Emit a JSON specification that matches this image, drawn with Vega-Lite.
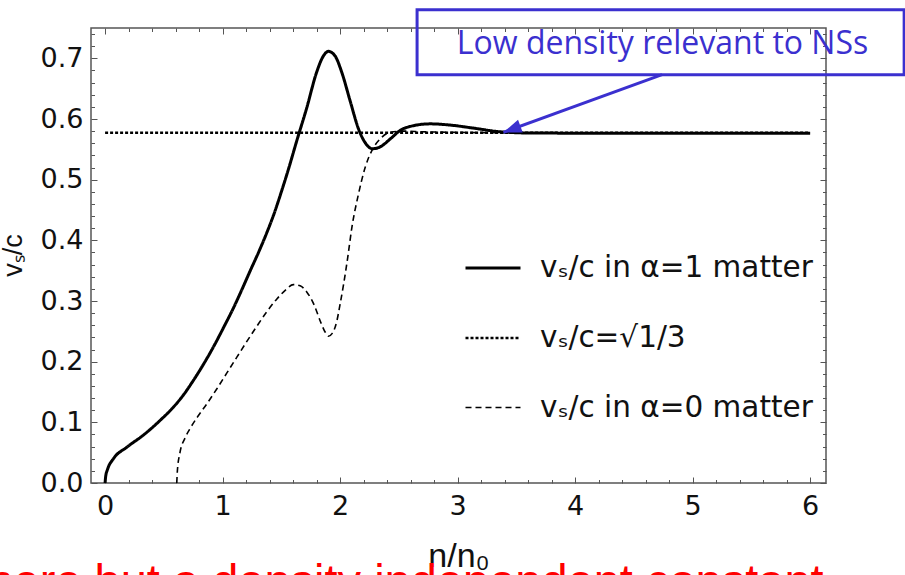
{
  "$schema": "https://vega.github.io/schema/vega-lite/v6.json",
  "width": 735,
  "height": 455,
  "autosize": {"type": "none"},
  "padding": {"left": 91, "top": 28, "right": 79, "bottom": 92},
  "background": "white",
  "datasets": {
    "curves": [
      {"x": 0, "y": 0, "s": "vₛ/c in α=1 matter"},
      {"x": 0.005, "y": 0.011, "s": "vₛ/c in α=1 matter"},
      {"x": 0.02, "y": 0.022, "s": "vₛ/c in α=1 matter"},
      {"x": 0.071, "y": 0.04, "s": "vₛ/c in α=1 matter"},
      {"x": 0.185, "y": 0.059, "s": "vₛ/c in α=1 matter"},
      {"x": 0.326, "y": 0.079, "s": "vₛ/c in α=1 matter"},
      {"x": 0.467, "y": 0.103, "s": "vₛ/c in α=1 matter"},
      {"x": 0.581, "y": 0.125, "s": "vₛ/c in α=1 matter"},
      {"x": 0.67, "y": 0.146, "s": "vₛ/c in α=1 matter"},
      {"x": 0.751, "y": 0.169, "s": "vₛ/c in α=1 matter"},
      {"x": 0.835, "y": 0.195, "s": "vₛ/c in α=1 matter"},
      {"x": 0.921, "y": 0.224, "s": "vₛ/c in α=1 matter"},
      {"x": 1.005, "y": 0.255, "s": "vₛ/c in α=1 matter"},
      {"x": 1.091, "y": 0.288, "s": "vₛ/c in α=1 matter"},
      {"x": 1.16, "y": 0.317, "s": "vₛ/c in α=1 matter"},
      {"x": 1.233, "y": 0.349, "s": "vₛ/c in α=1 matter"},
      {"x": 1.31, "y": 0.382, "s": "vₛ/c in α=1 matter"},
      {"x": 1.375, "y": 0.412, "s": "vₛ/c in α=1 matter"},
      {"x": 1.44, "y": 0.445, "s": "vₛ/c in α=1 matter"},
      {"x": 1.5, "y": 0.48, "s": "vₛ/c in α=1 matter"},
      {"x": 1.56, "y": 0.517, "s": "vₛ/c in α=1 matter"},
      {"x": 1.631, "y": 0.564, "s": "vₛ/c in α=1 matter"},
      {"x": 1.717, "y": 0.619, "s": "vₛ/c in α=1 matter"},
      {"x": 1.8, "y": 0.677, "s": "vₛ/c in α=1 matter"},
      {"x": 1.858, "y": 0.704, "s": "vₛ/c in α=1 matter"},
      {"x": 1.9, "y": 0.7115, "s": "vₛ/c in α=1 matter"},
      {"x": 1.957, "y": 0.704, "s": "vₛ/c in α=1 matter"},
      {"x": 2.014, "y": 0.677, "s": "vₛ/c in α=1 matter"},
      {"x": 2.085, "y": 0.63, "s": "vₛ/c in α=1 matter"},
      {"x": 2.156, "y": 0.584, "s": "vₛ/c in α=1 matter"},
      {"x": 2.213, "y": 0.561, "s": "vₛ/c in α=1 matter"},
      {"x": 2.275, "y": 0.551, "s": "vₛ/c in α=1 matter"},
      {"x": 2.34, "y": 0.554, "s": "vₛ/c in α=1 matter"},
      {"x": 2.426, "y": 0.567, "s": "vₛ/c in α=1 matter"},
      {"x": 2.51, "y": 0.581, "s": "vₛ/c in α=1 matter"},
      {"x": 2.624, "y": 0.589, "s": "vₛ/c in α=1 matter"},
      {"x": 2.766, "y": 0.592, "s": "vₛ/c in α=1 matter"},
      {"x": 2.936, "y": 0.59, "s": "vₛ/c in α=1 matter"},
      {"x": 3.134, "y": 0.585, "s": "vₛ/c in α=1 matter"},
      {"x": 3.36, "y": 0.579, "s": "vₛ/c in α=1 matter"},
      {"x": 3.65, "y": 0.5768, "s": "vₛ/c in α=1 matter"},
      {"x": 4.5, "y": 0.5766, "s": "vₛ/c in α=1 matter"},
      {"x": 6.0, "y": 0.5766, "s": "vₛ/c in α=1 matter"},
      {"x": 0, "y": 0.57735, "s": "vₛ/c=√1/3"},
      {"x": 6.0, "y": 0.57735, "s": "vₛ/c=√1/3"},
      {"x": 0.61, "y": 0, "s": "vₛ/c in α=0 matter"},
      {"x": 0.615, "y": 0.02, "s": "vₛ/c in α=0 matter"},
      {"x": 0.637, "y": 0.05, "s": "vₛ/c in α=0 matter"},
      {"x": 0.68, "y": 0.074, "s": "vₛ/c in α=0 matter"},
      {"x": 0.73, "y": 0.092, "s": "vₛ/c in α=0 matter"},
      {"x": 0.79, "y": 0.11, "s": "vₛ/c in α=0 matter"},
      {"x": 0.864, "y": 0.13, "s": "vₛ/c in α=0 matter"},
      {"x": 0.95, "y": 0.155, "s": "vₛ/c in α=0 matter"},
      {"x": 1.035, "y": 0.181, "s": "vₛ/c in α=0 matter"},
      {"x": 1.12, "y": 0.207, "s": "vₛ/c in α=0 matter"},
      {"x": 1.205, "y": 0.233, "s": "vₛ/c in α=0 matter"},
      {"x": 1.29, "y": 0.258, "s": "vₛ/c in α=0 matter"},
      {"x": 1.375, "y": 0.282, "s": "vₛ/c in α=0 matter"},
      {"x": 1.46, "y": 0.303, "s": "vₛ/c in α=0 matter"},
      {"x": 1.535, "y": 0.318, "s": "vₛ/c in α=0 matter"},
      {"x": 1.602, "y": 0.327, "s": "vₛ/c in α=0 matter"},
      {"x": 1.66, "y": 0.325, "s": "vₛ/c in α=0 matter"},
      {"x": 1.716, "y": 0.315, "s": "vₛ/c in α=0 matter"},
      {"x": 1.78, "y": 0.293, "s": "vₛ/c in α=0 matter"},
      {"x": 1.835, "y": 0.265, "s": "vₛ/c in α=0 matter"},
      {"x": 1.875, "y": 0.248, "s": "vₛ/c in α=0 matter"},
      {"x": 1.9, "y": 0.242, "s": "vₛ/c in α=0 matter"},
      {"x": 1.935, "y": 0.247, "s": "vₛ/c in α=0 matter"},
      {"x": 1.971, "y": 0.266, "s": "vₛ/c in α=0 matter"},
      {"x": 2.0, "y": 0.295, "s": "vₛ/c in α=0 matter"},
      {"x": 2.03, "y": 0.328, "s": "vₛ/c in α=0 matter"},
      {"x": 2.065, "y": 0.372, "s": "vₛ/c in α=0 matter"},
      {"x": 2.1, "y": 0.421, "s": "vₛ/c in α=0 matter"},
      {"x": 2.156, "y": 0.476, "s": "vₛ/c in α=0 matter"},
      {"x": 2.213, "y": 0.52, "s": "vₛ/c in α=0 matter"},
      {"x": 2.27, "y": 0.548, "s": "vₛ/c in α=0 matter"},
      {"x": 2.34, "y": 0.567, "s": "vₛ/c in α=0 matter"},
      {"x": 2.426, "y": 0.578, "s": "vₛ/c in α=0 matter"},
      {"x": 2.54, "y": 0.58, "s": "vₛ/c in α=0 matter"},
      {"x": 2.7, "y": 0.579, "s": "vₛ/c in α=0 matter"},
      {"x": 3.0, "y": 0.578, "s": "vₛ/c in α=0 matter"},
      {"x": 3.5, "y": 0.5772, "s": "vₛ/c in α=0 matter"},
      {"x": 6.0, "y": 0.5772, "s": "vₛ/c in α=0 matter"}
    ],
    "box": [{"x": 2.655, "x2": 6.8, "y": 0.673, "y2": 0.78}],
    "arrow": [{"x": 4.74, "y": 0.673, "x2": 3.39, "y2": 0.578}],
    "head": [{"x": 3.39, "y": 0.578}],
    "boxtext": [{"x": 4.744, "y": 0.7072, "t": "Low density relevant to NSs"}],
    "redtext": [{"x": 6.115, "y": -0.1886, "t": "here but a density independent constant"}]
  },
  "layer": [
    {
      "data": {"name": "curves"},
      "mark": {"type": "line", "stroke": "black", "interpolate": "monotone"},
      "encoding": {
        "x": {"field": "x", "type": "quantitative",
          "scale": {"domain": [-0.12, 6.135], "nice": false, "zero": false},
          "axis": {"orient": "bottom", "values": [0, 1, 2, 3, 4, 5, 6], "format": "d", "title": "n/n₀",
            "labelFontSize": 27, "tickSize": -6, "labelPadding": 16, "domain": false, "labelFlush": false,
            "titleFontSize": 34, "titleFontWeight": "normal", "titleFont": "Liberation Sans", "titleBaseline": "alphabetic", "titleY": 83}},
        "y": {"field": "y", "type": "quantitative",
          "scale": {"domain": [0, 0.75], "nice": false, "zero": false},
          "axis": {"orient": "left", "values": [0, 0.1, 0.2, 0.3, 0.4, 0.5, 0.6, 0.7], "format": ".1f", "title": "vₛ/c",
            "labelFontSize": 27, "tickSize": -6, "labelPadding": 14, "domain": false, "labelFlush": false,
            "titleFontSize": 27, "titleFontWeight": "normal", "titleFont": "Liberation Sans", "titleX": -64, "titleY": 227, "titleAngle": 270}},
        "strokeDash": {"field": "s", "type": "nominal",
          "scale": {"domain": ["vₛ/c in α=1 matter", "vₛ/c=√1/3", "vₛ/c in α=0 matter"], "range": [[1, 0], [3, 2], [6, 4]]},
          "legend": {"orient": "none", "legendX": 373, "legendY": 211, "title": null}},
        "strokeWidth": {"field": "s", "type": "nominal",
          "scale": {"type": "point", "domain": ["vₛ/c in α=1 matter", "vₛ/c=√1/3", "vₛ/c in α=0 matter"], "range": [3, 1.6]},
          "legend": {"orient": "none", "legendX": 373, "legendY": 211, "title": null}}
      }
    },
    {
      "data": {"name": "box"},
      "mark": {"type": "rect", "filled": false, "stroke": "#3B30CF", "strokeWidth": 3},
      "encoding": {
        "x": {"field": "x", "type": "quantitative",
          "scale": {"domain": [-0.12, 6.135], "nice": false, "zero": false},
          "axis": {"orient": "top", "values": [0, 1, 2, 3, 4, 5, 6], "labels": false, "tickSize": -6, "domain": false, "title": null}},
        "x2": {"field": "x2"},
        "y": {"field": "y", "type": "quantitative",
          "scale": {"domain": [0, 0.75], "nice": false, "zero": false},
          "axis": {"orient": "right", "values": [0, 0.1, 0.2, 0.3, 0.4, 0.5, 0.6, 0.7], "labels": false, "tickSize": -6, "domain": false, "title": null}},
        "y2": {"field": "y2"}
      }
    },
    {
      "data": {"name": "arrow"},
      "mark": {"type": "rule", "stroke": "#3B30CF", "strokeWidth": 3},
      "encoding": {
        "x": {"field": "x", "type": "quantitative",
          "scale": {"domain": [-0.12, 6.135], "nice": false, "zero": false},
          "axis": {"orient": "bottom", "values": [0.2, 0.4, 0.6, 0.8, 1.2, 1.4, 1.6, 1.8, 2.2, 2.4, 2.6, 2.8, 3.2, 3.4, 3.6, 3.8, 4.2, 4.4, 4.6, 4.8, 5.2, 5.4, 5.6, 5.8], "labels": false, "tickSize": -3.5, "domain": false, "title": null}},
        "x2": {"field": "x2"},
        "y": {"field": "y", "type": "quantitative",
          "scale": {"domain": [0, 0.75], "nice": false, "zero": false},
          "axis": {"orient": "left", "values": [0.02, 0.04, 0.06, 0.08, 0.12, 0.14, 0.16, 0.18, 0.22, 0.24, 0.26, 0.28, 0.32, 0.34, 0.36, 0.38, 0.42, 0.44, 0.46, 0.48, 0.52, 0.54, 0.56, 0.58, 0.62, 0.64, 0.66, 0.68, 0.72, 0.74], "labels": false, "tickSize": -3.5, "domain": false, "title": null}},
        "y2": {"field": "y2"}
      }
    },
    {
      "data": {"name": "head"},
      "mark": {"type": "point", "shape": "M0,0L-0.38,1L0.38,1Z", "filled": true, "fill": "#3B30CF", "opacity": 1, "size": 1300, "angle": 250, "strokeWidth": 0},
      "encoding": {
        "x": {"field": "x", "type": "quantitative",
          "scale": {"domain": [-0.12, 6.135], "nice": false, "zero": false},
          "axis": {"orient": "top", "values": [0.2, 0.4, 0.6, 0.8, 1.2, 1.4, 1.6, 1.8, 2.2, 2.4, 2.6, 2.8, 3.2, 3.4, 3.6, 3.8, 4.2, 4.4, 4.6, 4.8, 5.2, 5.4, 5.6, 5.8], "labels": false, "tickSize": -3.5, "domain": false, "title": null}},
        "y": {"field": "y", "type": "quantitative",
          "scale": {"domain": [0, 0.75], "nice": false, "zero": false},
          "axis": {"orient": "right", "values": [0.02, 0.04, 0.06, 0.08, 0.12, 0.14, 0.16, 0.18, 0.22, 0.24, 0.26, 0.28, 0.32, 0.34, 0.36, 0.38, 0.42, 0.44, 0.46, 0.48, 0.52, 0.54, 0.56, 0.58, 0.62, 0.64, 0.66, 0.68, 0.72, 0.74], "labels": false, "tickSize": -3.5, "domain": false, "title": null}}
      }
    },
    {
      "data": {"name": "boxtext"},
      "mark": {"type": "text", "font": "Open Sans", "fontSize": 32, "color": "#3B30CF", "align": "center", "baseline": "alphabetic"},
      "encoding": {
        "x": {"field": "x", "type": "quantitative", "scale": {"domain": [-0.12, 6.135], "nice": false, "zero": false}, "axis": null},
        "y": {"field": "y", "type": "quantitative", "scale": {"domain": [0, 0.75], "nice": false, "zero": false}, "axis": null},
        "text": {"field": "t"}
      }
    },
    {
      "data": {"name": "redtext"},
      "mark": {"type": "text", "font": "Liberation Sans", "fontSize": 47, "color": "#FF0000", "align": "right", "baseline": "alphabetic"},
      "encoding": {
        "x": {"field": "x", "type": "quantitative", "scale": {"domain": [-0.12, 6.135], "nice": false, "zero": false}, "axis": null},
        "y": {"field": "y", "type": "quantitative", "scale": {"domain": [0, 0.75], "nice": false, "zero": false}, "axis": null},
        "text": {"field": "t"}
      }
    }
  ],
  "resolve": {"axis": {"x": "independent", "y": "independent"}},
  "config": {
    "view": {"stroke": "#555555", "strokeWidth": 1.5},
    "axis": {"grid": false, "labelFont": "DejaVu Sans", "labelColor": "#111111", "tickColor": "#555555", "tickWidth": 1, "titleColor": "#111111"},
    "legend": {"symbolType": "stroke", "symbolSize": 3025, "symbolStrokeColor": "black", "labelFont": "DejaVu Sans", "labelFontSize": 29.5, "labelColor": "#111111", "labelOffset": 18, "rowPadding": 26, "labelLimit": 500, "labelBaseline": "middle"}
  }
}
